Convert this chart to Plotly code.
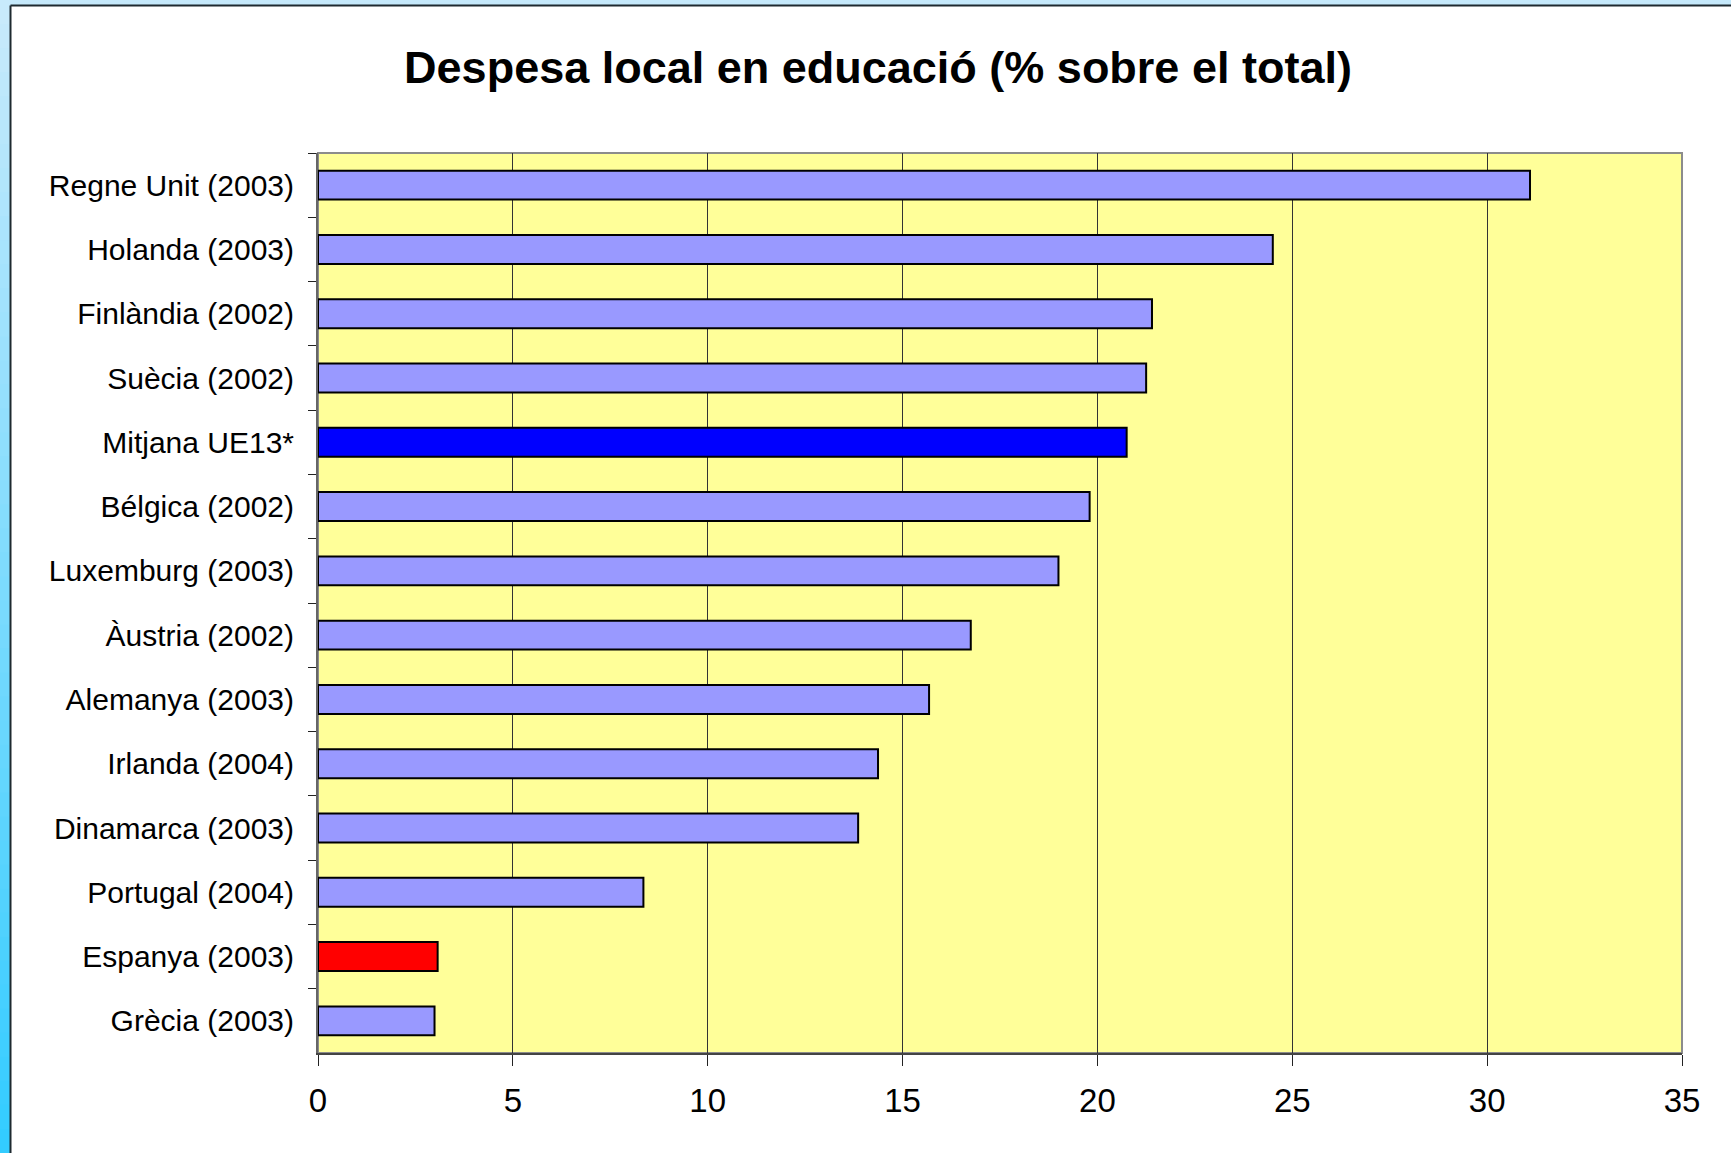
import plotly.graph_objects as go

categories = [
    "Regne Unit (2003)", "Holanda (2003)", "Finlàndia (2002)", "Suècia (2002)",
    "Mitjana UE13*", "Bélgica (2002)", "Luxemburg (2003)", "Àustria (2002)",
    "Alemanya (2003)", "Irlanda (2004)", "Dinamarca (2003)", "Portugal (2004)",
    "Espanya (2003)", "Grècia (2003)",
]
values = [31.1, 24.5, 21.4, 21.25, 20.75, 19.8, 19.0, 16.75, 15.68, 14.37, 13.86, 8.35, 3.07, 2.99]
colors = ["#9999ff"] * 4 + ["#0000ff"] + ["#9999ff"] * 7 + ["#ff0000", "#9999ff"]
x_ticks = [0, 5, 10, 15, 20, 25, 30, 35]

W, H = 1731, 1153
L, R, T, B = 318, 1682, 153, 1053
FONT = "Liberation Sans, Arial, sans-serif"

def px_x(p):
    return (p - L) / (R - L)

def px_y(p):
    return (B - p) / (B - T)

fig = go.Figure(go.Bar(
    x=values, y=categories, orientation="h",
    marker=dict(color=colors, line=dict(color="#000000", width=2)),
))

shapes = []
# background: top strip
shapes.append(dict(type="rect", xref="paper", yref="paper", x0=px_x(0), x1=px_x(W), y0=px_y(6), y1=px_y(0),
                   fillcolor="#c5e9fb", line=dict(width=0), layer="below"))
# left gradient strip
n = 48
c0 = (200, 234, 252)
c1 = (51, 204, 255)
for i in range(n):
    t = i / (n - 1)
    c = tuple(int(round(c0[k] + (c1[k] - c0[k]) * t)) for k in range(3))
    y0 = i * H / n
    y1 = (i + 1) * H / n + 1
    shapes.append(dict(type="rect", xref="paper", yref="paper", x0=px_x(0), x1=px_x(10),
                       y0=px_y(y1), y1=px_y(y0), fillcolor="rgb(%d,%d,%d)" % c,
                       line=dict(width=0), layer="below"))
# panel border
shapes.append(dict(type="line", xref="paper", yref="paper", x0=px_x(10.5), x1=px_x(W), y0=px_y(5.5), y1=px_y(5.5),
                   line=dict(color="#1e2a30", width=2)))
shapes.append(dict(type="line", xref="paper", yref="paper", x0=px_x(10.5), x1=px_x(10.5), y0=px_y(5.5), y1=px_y(H),
                   line=dict(color="#1e2a30", width=2)))
# plot area border
shapes.append(dict(type="rect", xref="paper", yref="paper", x0=0, x1=1, y0=0, y1=1,
                   line=dict(color="#8c8c8c", width=2), layer="below"))

fig.update_layout(
    width=W, height=H,
    margin=dict(l=L, r=W - R, t=T, b=H - B, pad=0),
    paper_bgcolor="#ffffff",
    plot_bgcolor="#ffff99",
    bargap=0.55,
    showlegend=False,
    font=dict(family=FONT, color="#000000"),
    title=dict(text="<b>Despesa local en educació (% sobre el total)</b>",
               x=878 / W, xanchor="center", y=1 - 67 / H, yanchor="middle",
               xref="container", yref="container",
               font=dict(family=FONT, size=45, color="#000000")),
    shapes=shapes,
    xaxis=dict(range=[0, 35], tickvals=x_ticks, ticktext=[str(v) for v in x_ticks],
               showgrid=True, gridcolor="#333333", gridwidth=1, zeroline=False,
               showline=True, linecolor="#444444", linewidth=2,
               ticks="outside", ticklen=11, tickcolor="#222222", tickwidth=1,
               tickfont=dict(family=FONT, size=33, color="#000000"), ticklabelstandoff=6),
    yaxis=dict(autorange="reversed", showgrid=False, zeroline=False,
               showline=True, linecolor="#666666", linewidth=2,
               ticks="outside", ticklen=8, tickcolor="#222222", tickwidth=1, tickson="boundaries",
               tickfont=dict(family=FONT, size=30, color="#000000"), ticklabelstandoff=16),
)

fig.write_html("out.html", config={"displayModeBar": False},
               post_script="document.body.style.margin='0';document.body.style.overflow='hidden';")
